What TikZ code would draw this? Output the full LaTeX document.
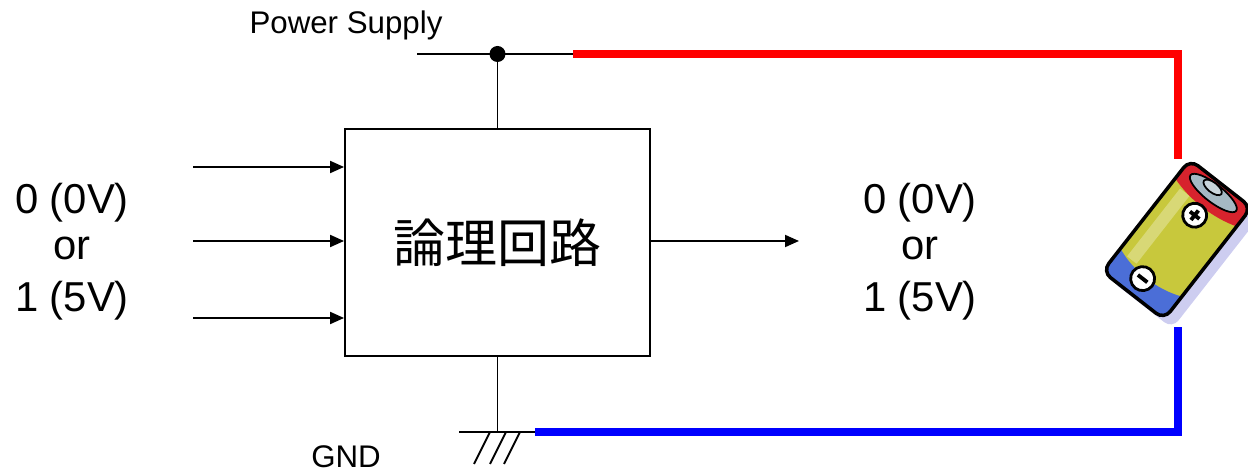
\documentclass[tikz,border=0pt]{standalone}
\usepackage{fontspec}
\setmainfont{Liberation Sans}
\newfontfamily\cjkfont{Noto Sans CJK JP}
\usetikzlibrary{arrows.meta,positioning}

\definecolor{rojobat}{RGB}{215,35,45}
\definecolor{amarillobat}{RGB}{200,200,60}
\definecolor{azulbat}{RGB}{75,110,215}
\definecolor{sombrabat}{RGB}{205,205,240}
\definecolor{tapabat}{RGB}{165,185,195}

\begin{document}
\begin{tikzpicture}[x=0.02cm,y=-0.02cm,
    hilo/.style={line width=1.1pt},
    flecha/.style={hilo,-{Triangle[length=0.28cm,width=0.24cm]}},
    cable/.style={line width=4pt},
    etiqueta/.style={font=\fontsize{17.8pt}{20pt}\selectfont,inner sep=0pt,anchor=base},
    nivel/.style={font=\fontsize{23.8pt}{28pt}\selectfont,inner sep=0pt,anchor=base}]
    \useasboundingbox (0,0) rectangle (1248,472);

    % Circuito logico
    \node[draw,hilo,minimum width=6.1cm,minimum height=4.54cm,inner sep=0pt,
          font=\cjkfont\fontsize{29.6pt}{32pt}\selectfont] (logico) at (497.5,242.5) {論理回路};

    % Alimentacion
    \coordinate (vcc) at (497.5,54);
    \coordinate (vccizq) at (417,54);
    \coordinate (vccder) at (573,54);
    \coordinate (esqpos) at (1178,54);
    \coordinate (batpos) at (1178,159);
    \draw[hilo] (vccizq) -- (vccder);
    \draw[hilo] (vcc) -- (logico.north);
    \fill (vcc) circle (0.16cm);
    \draw[cable,red] (vccder) -- (esqpos) -- (batpos);
    \node[etiqueta] (alim) at (346,34) {Power Supply};

    % Tierra
    \coordinate (gnd) at (497.5,432);
    \coordinate (gndizq) at (459,432);
    \coordinate (gndder) at (535,432);
    \coordinate (esqneg) at (1178,432);
    \coordinate (batneg) at (1178,327);
    \draw[hilo] (logico.south) -- (gnd);
    \draw[hilo] (gndizq) -- (gndder);
    \foreach \x in {490,506,520}
        \draw[hilo] (\x,432) -- ++(-16,32);
    \draw[cable,blue] (gndder) -- (esqneg) -- (batneg);
    \node[etiqueta] (tierra) at (346,468) {GND};

    % Entradas y salida
    \foreach \y [count=\i] in {167,241,318} {
        \coordinate (in\i) at (193,\y);
        \draw[flecha] (in\i) -- (in\i -| logico.west);
    }
    \coordinate (sal) at (799,241);
    \draw[flecha] (logico.east |- sal) -- (sal);

    % Niveles
    \node[nivel] (ent0) at (72,214) {0 (0V)};
    \node[nivel] (entor) at (72,260) {or};
    \node[nivel] (ent1) at (72,312) {1 (5V)};
    \node[nivel] (sal0) at (920,214) {0 (0V)};
    \node[nivel] (salor) at (920,260) {or};
    \node[nivel] (sal1) at (920,312) {1 (5V)};

    % Pila
    \begin{scope}[shift={(1177,239.5)},x=0.02cm,y=0.02cm,rotate=-38,rounded corners=0.2cm]
        \fill[sombrabat] (-27,-73) rectangle (51,69);
        \begin{scope}
            \clip (-39,-71) rectangle (39,71);
            \fill[amarillobat] (-39,-71) rectangle (39,71);
            \fill[white,opacity=0.3,sharp corners] (-29,-44) rectangle (-17,42);
            \fill[rojobat,sharp corners] (-39,47) .. controls (-15,39) and (15,39) .. (39,47) -- (39,71) -- (-39,71) -- cycle;
            \fill[azulbat,sharp corners] (-39,-42) .. controls (-15,-52) and (15,-52) .. (39,-42) -- (39,-71) -- (-39,-71) -- cycle;
            \filldraw[fill=tapabat,line width=1pt] (0,59) ellipse (29 and 9);
            \filldraw[fill=tapabat!60!white,line width=1pt] (-4,63) ellipse (11 and 5);
        \end{scope}
        \draw[line width=2pt] (-39,-71) rectangle (39,71);
        \filldraw[fill=white,line width=1.6pt] (-1,30) circle (12);
        \draw[line width=2.2pt] (-7,30) -- (5,30) (-1,24) -- (-1,36);
        \filldraw[fill=white,line width=1.6pt] (-3,-52) circle (12);
        \draw[line width=2.2pt] (-9,-52) -- (3,-52);
    \end{scope}
\end{tikzpicture}
\end{document}
